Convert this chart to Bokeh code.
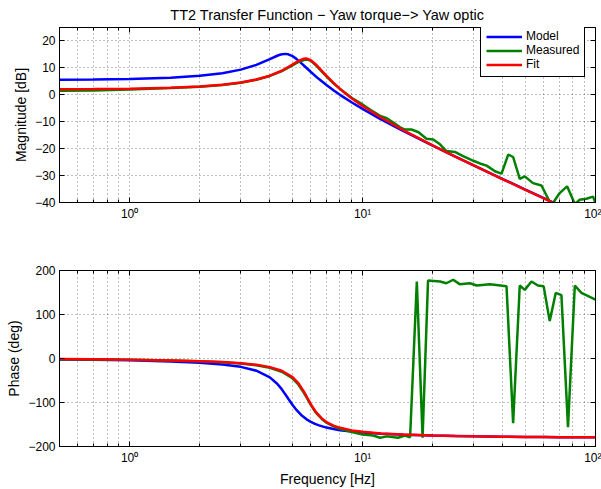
from bokeh.plotting import figure
from bokeh.layouts import column
from bokeh.models import FixedTicker, LinearAxis, LogAxis, Legend, LegendItem, Range1d
from bokeh.embed import file_html
from bokeh.resources import INLINE

title_text = "TT2 Transfer Function \u2212 Yaw torque\u2212> Yaw optic"

series_names = ["Model", "Measured", "Fit"]
series_colors = ["#0000ff", "#008000", "#ff0000"]

model_freq = [0.5, 0.7, 1.0, 1.5, 2.0, 2.5, 3.0, 3.5, 4.0, 4.3, 4.45, 4.65, 4.8, 5.0, 5.2, 5.5,
              5.75, 6.0, 6.25, 6.5, 7.0, 7.5, 8.0, 9.0, 10.0, 12.0, 15.0, 20.0, 25.0, 30.0, 40.0,
              50.0, 60.0, 70.0, 80.0, 100.0]
model_mag = [5.59, 5.68, 5.87, 6.34, 7.05, 8.03, 9.36, 11.12, 13.27, 14.51, 14.96, 15.2, 15.04,
             14.38, 13.35, 11.51, 9.95, 8.47, 7.10, 5.84, 3.61, 1.68, -0.01, -2.87, -5.25, -9.1,
             -13.5, -18.89, -22.93, -26.2, -31.29, -35.2, -38.4, -41.08, -43.4, -47.3]
model_phase = [-2.0, -2.8, -4.2, -6.6, -9.6, -13.4, -19.0, -27.7, -42.8, -57.4, -66.7, -80.6,
               -91.4, -105.2, -117.0, -130.3, -138.2, -144.1, -148.5, -152.0, -157.0, -160.4,
               -162.9, -166.2, -168.4, -171.1, -173.3, -175.2, -176.2, -176.9, -177.7, -178.2,
               -178.5, -178.7, -178.8, -179.0]

fit_freq = [0.5, 0.7, 1.0, 1.5, 2.0, 2.5, 3.0, 3.5, 4.0, 4.5, 5.0, 5.3, 5.6, 5.7, 5.8, 6.0, 6.3,
            6.7, 7.0, 7.5, 8.0, 9.0, 10.0, 12.0, 15.0, 20.0, 25.0, 30.0, 40.0, 50.0, 60.0, 70.0,
            80.0, 100.0]
fit_mag = [2.06, 2.12, 2.25, 2.58, 3.05, 3.70, 4.55, 5.66, 7.09, 8.94, 11.2, 12.55, 13.39, 13.45,
           13.37, 12.81, 11.27, 8.79, 7.02, 4.41, 2.21, -1.34, -4.14, -8.44, -13.17, -18.77,
           -22.92, -26.23, -31.37, -35.31, -38.5, -41.2, -43.5, -47.4]
fit_phase = [-1.3, -1.9, -2.8, -4.3, -6.0, -8.1, -10.8, -14.4, -19.6, -27.8, -42.2, -56.2, -75.4,
             -82.6, -90.0, -104.1, -121.5, -137.0, -144.5, -152.6, -157.6, -163.4, -166.7,
             -170.3, -173.0, -175.1, -176.2, -176.9, -177.7, -178.2, -178.5, -178.7, -178.8,
             -179.1]

meas_mag_freq = [0.5, 0.7, 1.0, 1.5, 2.0, 2.5, 3.0, 3.5, 4.0, 4.5, 5.0, 5.3, 5.6, 5.8, 6.0, 6.3,
                 6.7, 7.0, 7.5, 8.0, 9.0, 9.75, 10.8, 11.9, 12.7, 13.5, 14.5, 15.2, 16.2, 17.4,
                 18.8, 20.1, 21.5, 22.9, 24.9, 27.0, 29.9, 31.9, 34.1, 37.0, 39.5, 42.2, 44.3,
                 47.3, 49.7, 53.9, 58.6, 64.7, 70.2, 75.5, 81.5, 85.6, 91.4, 97.6, 100.0]
meas_mag = [1.5, 1.6, 2.0, 2.5, 3.0, 3.6, 4.5, 5.6, 7.0, 8.8, 10.9, 12.2, 12.9, 13.1, 12.6, 11.0,
            8.5, 6.8, 4.3, 2.2, -1.2, -3.0, -5.6, -7.8, -8.7, -10.2, -12.1, -12.9, -12.9, -13.9,
            -16.3, -16.6, -18.4, -20.9, -21.2, -22.8, -24.5, -25.5, -26.3, -28.4, -29.3, -22.2,
            -23.1, -31.2, -30.3, -32.8, -33.7, -41.0, -36.5, -34.0, -40.5, -39.0, -38.6, -37.8,
            -40.2]

meas_phase_freq = [0.5, 0.7, 1.0, 1.5, 2.0, 2.5, 3.0, 3.5, 4.0, 4.5, 5.0, 5.3, 5.6, 5.8, 6.0,
                   6.3, 6.7, 7.0, 7.5, 8.0, 9.0, 10.0, 11.1, 11.9, 12.7, 14.2, 15.2, 16.0, 17.1,
                   18.1, 19.1, 21.5, 22.9, 24.5, 26.1, 28.9, 30.9, 35.2, 41.5, 44.3, 47.3, 49.7,
                   53.1, 56.6, 59.9, 63.6, 67.5, 71.4, 76.2, 81.5, 87.0, 100.0]
meas_phase = [-1.5, -2.0, -2.9, -4.5, -6.4, -8.7, -11.6, -15.5, -21.0, -30.0, -45.0, -59.0,
              -78.0, -92.0, -106.0, -123.0, -138.0, -146.0, -154.0, -160.0, -167.0, -173.0,
              -175.0, -180.0, -177.0, -180.0, -175.0, -179.0, 175.0, -180.0, 177.0, 175.0,
              171.0, 179.0, 169.0, 171.0, 166.0, 169.0, 164.0, -147.0, 166.0, 156.0, 175.0,
              166.0, 164.0, 85.0, 149.0, 144.0, -156.0, 166.0, 149.0, 134.0]

x_ticks = [1, 10, 100]
x_tick_labels = ["10\u2070", "10\u00b9", "10\u00b2"]
x_minor_ticks = [0.5, 0.6, 0.7, 0.8, 0.9, 2, 3, 4, 5, 6, 7, 8, 9, 20, 30, 40, 50, 60, 70, 80, 90]
mag_ticks = [-40, -30, -20, -10, 0, 10, 20]
mag_tick_labels = ["\u221240", "\u221230", "\u221220", "\u221210", "0", "10", "20"]
phase_ticks = [-200, -100, 0, 100, 200]
phase_tick_labels = ["\u2212200", "\u2212100", "0", "100", "200"]

FONT = "Liberation Sans"
W = 601


def style_axis(ax, show_labels=True):
    ax.axis_line_color = "black"
    ax.major_tick_line_color = "black"
    ax.minor_tick_line_color = "black"
    ax.major_tick_in = 5
    ax.major_tick_out = 0
    ax.minor_tick_in = 3
    ax.minor_tick_out = 0
    ax.major_label_text_font = FONT
    ax.axis_label_text_font = FONT
    ax.axis_label_text_font_style = "normal"
    ax.axis_label_text_font_size = "14px"
    ax.axis_label_text_color = "black"
    if show_labels:
        ax.major_label_text_color = "black"
        ax.major_label_text_font_size = "12px"
        ax.major_label_standoff = 4
    else:
        ax.major_label_text_color = None
        ax.major_label_text_alpha = 0
        ax.major_label_text_font_size = "1px"
        ax.major_label_standoff = 0


def make_fig(height, ylo, yhi, btop, bbottom, yticks, ylabels, ylabel, xlabel, title):
    kw = dict(width=W, height=height, x_axis_type="log",
              x_range=Range1d(0.5, 100), y_range=Range1d(ylo, yhi),
              output_backend="svg", toolbar_location=None,
              min_border_left=59, min_border_right=6,
              min_border_top=btop, min_border_bottom=bbottom)
    if title is not None:
        kw["title"] = title
    p = figure(**kw)
    p.outline_line_color = "black"
    p.outline_line_width = 1
    p.background_fill_color = "white"
    p.border_fill_color = "white"
    xt = FixedTicker(ticks=x_ticks, minor_ticks=x_minor_ticks)
    yt = FixedTicker(ticks=yticks, minor_ticks=[])
    xo = {k: v for k, v in zip(x_ticks, x_tick_labels)}
    yo = {k: v for k, v in zip(yticks, ylabels)}

    for ax in p.xaxis:
        ax.ticker = xt
        ax.major_label_overrides = xo
        style_axis(ax)
        if xlabel is not None:
            ax.axis_label = xlabel
            ax.axis_label_standoff = 3
    for ax in p.yaxis:
        ax.ticker = yt
        ax.major_label_overrides = yo
        style_axis(ax)
        ax.axis_label = ylabel
        ax.axis_label_standoff = 3

    top_ax = LogAxis(ticker=xt)
    style_axis(top_ax, show_labels=False)
    p.add_layout(top_ax, "above")
    right_ax = LinearAxis(ticker=yt)
    style_axis(right_ax, show_labels=False)
    p.add_layout(right_ax, "right")

    p.xgrid.ticker = xt
    p.ygrid.ticker = yt
    for g in (p.xgrid, p.ygrid):
        g.grid_line_color = "#000000"
        g.grid_line_alpha = 0.5
        g.grid_line_dash = "1 3"
        g.grid_line_width = 1
    p.xgrid.minor_grid_line_color = "#000000"
    p.xgrid.minor_grid_line_alpha = 0.5
    p.xgrid.minor_grid_line_dash = "1 3"
    p.xgrid.minor_grid_line_width = 1

    if title is not None:
        p.title.text_font = FONT
        p.title.text_font_style = "normal"
        p.title.text_font_size = "14.5px"
        p.title.text_color = "black"
        p.title.align = "center"
        p.title.standoff = 9
    return p


p1 = make_fig(245, -40, 25, 25, 43, mag_ticks, mag_tick_labels,
              "Magnitude [dB]", None, title_text)
r_model = p1.line(model_freq, model_mag, line_color=series_colors[0], line_width=2.5)
r_meas = p1.line(meas_mag_freq, meas_mag, line_color=series_colors[1], line_width=2.5)
r_fit = p1.line(fit_freq, fit_mag, line_color=series_colors[2], line_width=2.5)

legend = Legend(items=[LegendItem(label=series_names[0], renderers=[r_model]),
                       LegendItem(label=series_names[1], renderers=[r_meas]),
                       LegendItem(label=series_names[2], renderers=[r_fit])],
                location=(421, 125))
legend.border_line_color = "black"
legend.border_line_width = 1
legend.border_line_alpha = 1
legend.background_fill_color = "white"
legend.background_fill_alpha = 1
legend.label_text_font = FONT
legend.label_text_font_size = "12px"
legend.label_text_color = "black"
legend.glyph_width = 36
legend.glyph_height = 13
legend.label_height = 13
legend.label_standoff = 4
legend.spacing = 0
legend.padding = 5
legend.margin = 0
p1.add_layout(legend)

p2 = make_fig(244, -200, 200, 25, 42, phase_ticks, phase_tick_labels,
              "Phase (deg)", "Frequency [Hz]", None)
p2.line(model_freq, model_phase, line_color=series_colors[0], line_width=2.5)
p2.line(meas_phase_freq, meas_phase, line_color=series_colors[1], line_width=2.5)
p2.line(fit_freq, fit_phase, line_color=series_colors[2], line_width=2.5)

layout = column(p1, p2, spacing=0)
open("out.html", "w").write(file_html(layout, INLINE))
